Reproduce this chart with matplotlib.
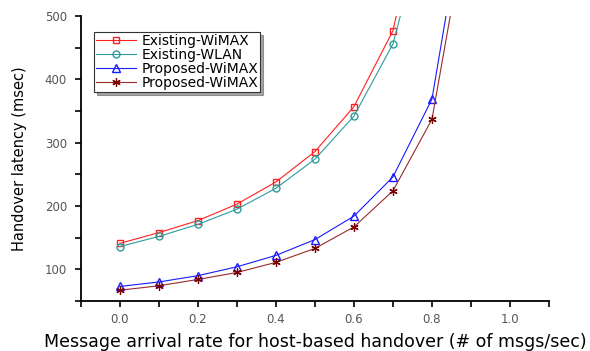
import numpy as np
import matplotlib
matplotlib.use("Agg")
import matplotlib.pyplot as plt
from matplotlib.ticker import MultipleLocator

plt.rcParams['font.family'] = ['DejaVu Sans']

rate = [0.0, 0.1, 0.2, 0.3, 0.4, 0.5, 0.6, 0.7, 0.8, 0.9]
# last points run off the top of the plot
exist_wimax = [141, 158, 177, 203, 238, 286, 357, 477, 750]
exist_wlan = [136, 152, 171, 195, 228, 274, 342, 456, 690]
prop_wimax = [73, 80, 90, 104, 122, 147, 184, 246, 369, 734]
prop_wimax2 = [67, 74, 84, 95, 111, 133, 167, 224, 337, 685]

fig = plt.figure(figsize=(5.9, 3.51), dpi=100)
ax = fig.add_axes([0.137, 0.1425, 0.7935, 0.8115])

ax.plot(rate[:len(exist_wimax)], exist_wimax, color='#ff2020', lw=0.8,
        marker='s', ms=5, mfc='none', mec='#ff2020', label='Existing-WiMAX')
ax.plot(rate[:len(exist_wlan)], exist_wlan, color='#2e9c9c', lw=0.8,
        marker='o', ms=5, mfc='none', mec='#2e9c9c', label='Existing-WLAN')
ax.plot(rate, prop_wimax, color='#1a1aff', lw=0.8,
        marker='^', ms=6, mfc='none', mec='#1a1aff', label='Proposed-WiMAX')
ax.plot(rate, prop_wimax2, color='#9a2a2a', lw=0.8,
        marker=(6, 2, 0), ms=6, mec='#7a0000', mew=0.9, label='Proposed-WiMAX')

ax.set_xlim(-0.1, 1.1)
ax.set_ylim(50, 500)
ax.xaxis.set_minor_locator(MultipleLocator(0.1))
ax.yaxis.set_minor_locator(MultipleLocator(50))
ax.set_xticks([0.0, 0.2, 0.4, 0.6, 0.8, 1.0])
ax.set_xticklabels(['0.0', '0.2', '0.4', '0.6', '0.8', '1.0'])
ax.set_yticks([100, 200, 300, 400, 500])

for s in ['top', 'right']:
    ax.spines[s].set_visible(False)
for s in ['left', 'bottom']:
    ax.spines[s].set_linewidth(1.3)
ax.tick_params(which='both', direction='out', length=4, width=1.2,
               labelsize=8.5, labelcolor='#555555', pad=6)
ax.tick_params(axis='x', which='both', pad=4.5)

ax.set_xlabel('Message arrival rate for host-based handover (# of msgs/sec)',
              fontsize=12.5, labelpad=5)
ax.set_ylabel('Handover latency (msec)', fontsize=10.5, labelpad=13)

leg = ax.legend(loc='upper left', bbox_to_anchor=(0.028, 0.944), fontsize=10,
                frameon=True, fancybox=False, shadow=True, handlelength=2.9,
                borderpad=0.15, labelspacing=0.0, handletextpad=0.35,
                borderaxespad=0.0)
leg.get_frame().set_edgecolor('#333333')
leg.get_frame().set_linewidth(0.8)

fig.savefig('out.png', dpi=100)
